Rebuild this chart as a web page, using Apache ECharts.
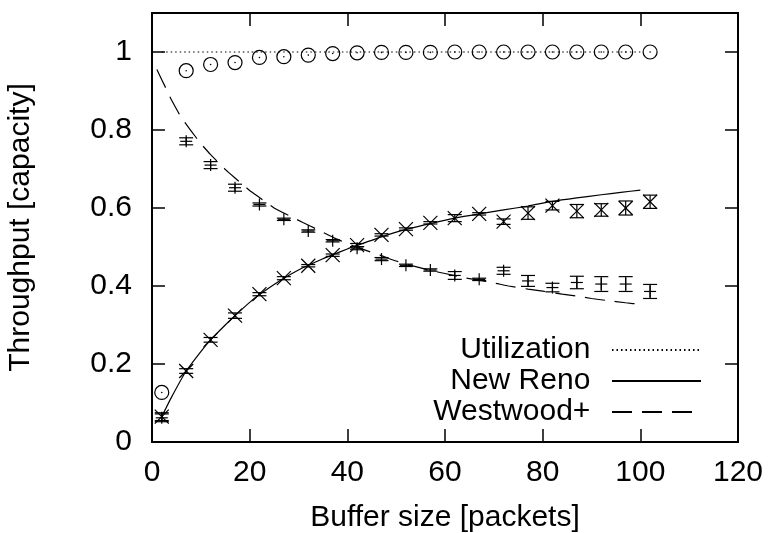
<!DOCTYPE html>
<html>
<head>
<meta charset="utf-8">
<script src="https://cdn.jsdelivr.net/npm/echarts@6/dist/echarts.min.js"></script>
<style>
  html, body { margin: 0; padding: 0; background: #fff; }
  #chart { width: 770px; height: 533px; }
</style>
</head>
<body>
<div id="chart"></div>
<script>
// Buffer sizes (packets) at which throughput was measured
const bufferSizes = [2, 7, 12, 17, 22, 27, 32, 37, 42, 47, 52, 57, 62, 67, 72, 77, 82, 87, 92, 97, 102];

// Measured link utilization (sum of both flows)
const utilization = [0.127, 0.952, 0.968, 0.973, 0.986, 0.988, 0.992, 0.996, 0.998, 0.999, 0.999,
                     0.999, 1.0, 1.0, 1.0, 1.0, 1.0, 1.0, 1.0, 1.0, 1.0];

// Measured New Reno throughput and half-width of its error bar
const newReno    = [0.065, 0.182, 0.262, 0.324, 0.379, 0.420, 0.452, 0.479, 0.505, 0.531, 0.546,
                    0.562, 0.574, 0.585, 0.565, 0.587, 0.606, 0.592, 0.595, 0.600, 0.616];
const newRenoErr = [0.010, 0.006, 0.006, 0.007, 0.004, 0.004, 0.003, 0.003, 0.004, 0.003, 0.003,
                    0.003, 0.009, 0.003, 0.007, 0.016, 0.011, 0.017, 0.016, 0.018, 0.017];

// Measured Westwood+ throughput and half-width of its error bar
const westwood    = [0.062, 0.771, 0.710, 0.652, 0.609, 0.571, 0.541, 0.516, 0.497, 0.469, 0.453,
                     0.441, 0.427, 0.417, 0.439, 0.413, 0.396, 0.409, 0.405, 0.405, 0.386];
const westwoodErr = [0.010, 0.009, 0.009, 0.009, 0.004, 0.003, 0.003, 0.003, 0.004, 0.004, 0.003,
                     0.003, 0.010, 0.003, 0.009, 0.014, 0.011, 0.016, 0.019, 0.019, 0.018];

// Model curves
const utilModelX = [2, 20, 40, 60, 80, 100];
const utilModelY = [1.0, 1.0, 1.0, 1.0, 1.0, 1.0];

const newRenoModelX = [2, 4, 7, 10, 12, 15, 17, 20, 22, 25, 27, 30, 32, 35, 37, 40, 42, 47, 52,
                       57, 62, 67, 72, 77, 82, 87, 92, 96, 100];
const newRenoModelY = [0.065, 0.115, 0.182, 0.232, 0.262, 0.300, 0.324, 0.358, 0.378, 0.404,
                       0.420, 0.441, 0.453, 0.470, 0.480, 0.495, 0.504, 0.526, 0.545, 0.560,
                       0.574, 0.585, 0.595, 0.605, 0.617, 0.626, 0.634, 0.640, 0.646];

const westwoodModelX = [1, 3, 4, 6, 8, 10, 12, 15, 17, 20, 22, 25, 28, 31, 34, 37.5, 42, 46.7,
                        50, 53, 57, 60, 64, 66, 70, 73, 77, 80, 84, 87, 90, 93, 97, 100];
const westwoodModelY = [0.955, 0.903, 0.877, 0.832, 0.798, 0.765, 0.737, 0.699, 0.677, 0.645,
                        0.627, 0.600, 0.581, 0.562, 0.544, 0.522, 0.499, 0.479, 0.464, 0.453,
                        0.440, 0.432, 0.421, 0.417, 0.408, 0.400, 0.392, 0.387, 0.379, 0.374,
                        0.368, 0.363, 0.357, 0.353];

// Axis ticks
const xTicks = { min: 0, max: 120, interval: 20 };
const yTicks = { min: 0, max: 1.1, interval: 0.2 };

const FONT = '"Liberation Sans", Arial, Helvetica, sans-serif';
const FONT_SIZE = 30;
const INK = '#000';

function zip(xs, ys) { return xs.map((x, i) => [x, ys[i]]); }

// Points with vertical error bars, drawn as gnuplot-style glyphs
function pointSeries(name, values, errors, glyph) {
  return {
    type: 'custom',
    name: name,
    z: 3,
    silent: true,
    data: bufferSizes.map((x, i) => [x, values[i], errors ? errors[i] : 0]),
    encode: { x: 0, y: 1 },
    renderItem: function (params, api) {
      const x = api.value(0), y = api.value(1), e = api.value(2);
      const c = api.coord([x, y]);
      const st = { stroke: INK, lineWidth: 1.2, fill: null };
      const kids = [];
      const seg = (x1, y1, x2, y2) => kids.push({ type: 'line', shape: { x1, y1, x2, y2 }, style: st });
      if (e > 0) {
        const lo = api.coord([x, y - e])[1];
        const hi = api.coord([x, y + e])[1];
        const cap = 7;
        seg(c[0], lo, c[0], hi);
        seg(c[0] - cap, lo, c[0] + cap, lo);
        seg(c[0] - cap, hi, c[0] + cap, hi);
      }
      if (glyph === 'cross') {
        const r = 7;
        seg(c[0] - r, c[1] - r, c[0] + r, c[1] + r);
        seg(c[0] - r, c[1] + r, c[0] + r, c[1] - r);
      } else if (glyph === 'plus') {
        const r = 6;
        seg(c[0] - r, c[1], c[0] + r, c[1]);
        seg(c[0], c[1] - r, c[0], c[1] + r);
      } else if (glyph === 'circle') {
        kids.push({ type: 'circle', shape: { cx: c[0], cy: c[1], r: 7 },
                    style: { stroke: INK, lineWidth: 1.2, fill: null } });
        kids.push({ type: 'circle', shape: { cx: c[0], cy: c[1], r: 0.8 },
                    style: { fill: INK, stroke: null } });
      }
      return { type: 'group', children: kids };
    }
  };
}

function modelSeries(name, xs, ys, dash) {
  return {
    type: 'line',
    name: name,
    data: zip(xs, ys),
    symbol: 'none',
    smooth: 0.15,
    z: 2,
    silent: true,
    color: INK,
    lineStyle: { color: INK, width: 1.2, type: dash }
  };
}

const axisLabelStyle = { color: INK, fontSize: FONT_SIZE, fontFamily: FONT };
const frameLine = { show: true, onZero: false, lineStyle: { color: INK, width: 2 } };
const innerTick = { show: true, inside: true, length: 13, lineStyle: { color: INK, width: 1.5 } };

const chart = echarts.init(document.getElementById('chart'), null, { renderer: 'canvas' });
chart.setOption({
  animation: false,
  backgroundColor: '#fff',
  grid: { left: 152, right: 32, top: 13, bottom: 91, outerBoundsMode: 'none' },
  xAxis: [
    {
      type: 'value', position: 'bottom',
      min: xTicks.min, max: xTicks.max, interval: xTicks.interval,
      name: 'Buffer size [packets]', nameLocation: 'middle', nameGap: 61,
      nameTextStyle: { color: INK, fontSize: FONT_SIZE, fontFamily: FONT },
      axisLine: frameLine, axisTick: innerTick, splitLine: { show: false },
      axisLabel: Object.assign({ margin: 16 }, axisLabelStyle)
    },
    {
      type: 'value', position: 'top',
      min: xTicks.min, max: xTicks.max, interval: xTicks.interval,
      axisLine: frameLine, axisTick: innerTick, splitLine: { show: false },
      axisLabel: { show: false }
    }
  ],
  yAxis: [
    {
      type: 'value', position: 'left',
      min: yTicks.min, max: yTicks.max, interval: yTicks.interval,
      name: 'Throughput [capacity]', nameLocation: 'middle', nameGap: 116, nameRotate: 90,
      nameTextStyle: { color: INK, fontSize: FONT_SIZE, fontFamily: FONT },
      axisLine: frameLine, axisTick: innerTick, splitLine: { show: false },
      axisLabel: Object.assign({ margin: 20, showMaxLabel: false,
                                 formatter: v => String(Math.round(v * 10) / 10) }, axisLabelStyle)
    },
    {
      type: 'value', position: 'right',
      min: yTicks.min, max: yTicks.max, interval: yTicks.interval,
      axisLine: frameLine, axisTick: innerTick, splitLine: { show: false },
      axisLabel: { show: false }
    }
  ],
  legend: {
    data: ['Utilization', 'New Reno', 'Westwood+'],
    orient: 'vertical', align: 'right',
    right: 68, top: 335, padding: 0, itemGap: 1,
    itemWidth: 89, itemHeight: 14,
    selectedMode: false,
    // line samples only, no point glyph
    itemStyle: { color: 'rgba(0,0,0,0)', borderColor: 'rgba(0,0,0,0)', borderWidth: 0, opacity: 0 },
    formatter: n => n + '  ',
    textStyle: { color: INK, fontSize: FONT_SIZE, fontFamily: FONT }
  },
  series: [
    modelSeries('Utilization', utilModelX, utilModelY, [1.5, 3]),
    modelSeries('New Reno', newRenoModelX, newRenoModelY, 'solid'),
    modelSeries('Westwood+', westwoodModelX, westwoodModelY, [20, 10]),
    pointSeries('Utilization (measured)', utilization, null, 'circle'),
    pointSeries('New Reno (measured)', newReno, newRenoErr, 'cross'),
    pointSeries('Westwood+ (measured)', westwood, westwoodErr, 'plus')
  ]
});
</script>
</body>
</html>
